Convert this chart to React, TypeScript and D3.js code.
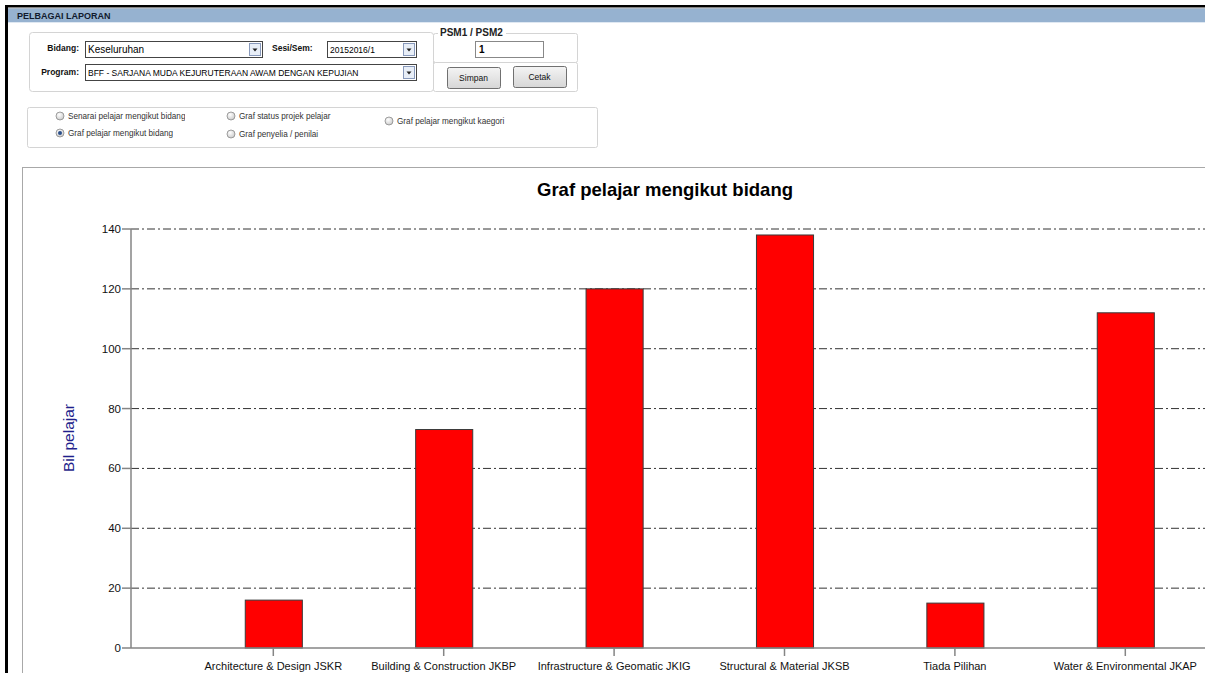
import React from "react";
import * as d3 from "d3";

const categories = [
  "Architecture & Design JSKR",
  "Building & Construction JKBP",
  "Infrastructure & Geomatic JKIG",
  "Structural & Material JKSB",
  "Tiada Pilihan",
  "Water & Environmental JKAP",
];
const values = [16, 73, 120, 138, 15, 112];
const yTicks = [0, 20, 40, 60, 80, 100, 120, 140];
const title = "Graf pelajar mengikut bidang";
const yLabel = "Bil pelajar";

const radioOptions = [
  { label: "Senarai pelajar mengikut bidang", x: 60, y: 116, clip: 185, sel: false },
  { label: "Graf pelajar mengikut bidang", x: 60, y: 133, clip: 173, sel: true },
  { label: "Graf status projek pelajar", x: 231, y: 116, clip: 380, sel: false },
  { label: "Graf penyelia / penilai", x: 231, y: 134, clip: 380, sel: false },
  { label: "Graf pelajar mengikut kaegori", x: 389, y: 121, clip: 505, sel: false },
];

const UI = "'Liberation Sans', Arial, sans-serif";

function Select({ x, y, w, text, fs = 9 }: { x: number; y: number; w: number; text: string; fs?: number }) {
  return (
    <g>
      <rect x={x + 0.5} y={y + 0.5} width={w} height={16} fill="#fff" stroke="#444" />
      <text x={x + 3} y={y + 12} fontSize={fs} fontFamily={UI} fill="#000">{text}</text>
      <rect x={x + w - 12.5} y={y + 2.5} width={11} height={12} fill="#e8eef7" stroke="#8899bb" />
      <path d={`M${x + w - 9.5},${y + 7.5} L${x + w - 4.5},${y + 7.5} L${x + w - 7},${y + 10.5} Z`} fill="#222" />
    </g>
  );
}

function Button({ x, y, w, h, text }: { x: number; y: number; w: number; h: number; text: string }) {
  return (
    <g>
      <defs>
        <linearGradient id={`btn-${text}`} x1="0" y1="0" x2="0" y2="1">
          <stop offset="0" stopColor="#f4f4f4" />
          <stop offset="1" stopColor="#d6d6d6" />
        </linearGradient>
      </defs>
      <rect x={x + 0.5} y={y + 0.5} width={w} height={h} rx={2} fill={`url(#btn-${text})`} stroke="#707070" />
      <text x={x + w / 2} y={y + h / 2 + 3} fontSize={8.5} fontFamily={UI} textAnchor="middle" fill="#111">{text}</text>
    </g>
  );
}

export default function App() {
  const W = 1205;
  const H = 673;
  const y0 = 648;
  const y140 = 229;
  const axisX = 131;

  const y = d3.scaleLinear().domain([0, 140]).range([y0, y140]);
  const step = 170.4;
  const start = 273.3 - step / 2;
  const x = d3
    .scaleBand<string>()
    .domain(categories)
    .range([start, start + step * categories.length])
    .paddingInner(0.665)
    .paddingOuter(0.3325);

  return (
    <svg width={W} height={H} style={{ position: "absolute", left: 0, top: 0, background: "#fff" }}>
      <defs>
        {radioOptions.map((r, i) => (
          <clipPath id={`rc${i}`} key={i}>
            <rect x={r.x} y={r.y - 10} width={r.clip - r.x} height={20} />
          </clipPath>
        ))}
        <radialGradient id="radioG" cx="0.4" cy="0.35" r="0.7">
          <stop offset="0" stopColor="#ffffff" />
          <stop offset="1" stopColor="#c8c8c8" />
        </radialGradient>
      </defs>

      {/* window frame */}
      <rect x={5} y={5} width={W - 5} height={2.5} fill="#000" />
      <rect x={8} y={7.5} width={W - 8} height={1} fill="#8a8a8a" />
      <rect x={5} y={5} width={3} height={H - 5} fill="#000" />
      <rect x={8} y={8.5} width={W - 8} height={13.5} fill="#96b2d0" />
      <rect x={8} y={22} width={W - 8} height={1} fill="#dfe8f2" />
      <text x={17} y={18.5} fontSize={9} fontWeight="bold" fontFamily={UI} fill="#111a2e">PELBAGAI LAPORAN</text>

      {/* form panel */}
      <rect x={29.5} y={32.5} width={404} height={59} rx={3} fill="#fff" stroke="#d4d4d4" />
      <text x={79} y={51} fontSize={8.5} fontWeight="bold" fontFamily={UI} textAnchor="end" fill="#111">Bidang:</text>
      <Select x={85} y={41} w={177} text="Keseluruhan" fs={10} />
      <text x={272} y={51} fontSize={8.5} fontWeight="bold" fontFamily={UI} fill="#111">Sesi/Sem:</text>
      <Select x={327} y={41} w={89} text="20152016/1" fs={8.5} />
      <text x={79} y={75} fontSize={8.5} fontWeight="bold" fontFamily={UI} textAnchor="end" fill="#111">Program:</text>
      <Select x={85} y={64} w={331} text="BFF - SARJANA MUDA KEJURUTERAAN AWAM DENGAN KEPUJIAN" fs={8.5} />

      <rect x={433.5} y={33.5} width={144} height={29} rx={2} fill="#fff" stroke="#d4d4d4" />
      <rect x={438} y={27} width={68} height={10} fill="#fff" />
      <text x={440} y={36} fontSize={10} fontWeight="bold" fontFamily={UI} fill="#222">PSM1 / PSM2</text>
      <rect x={475.5} y={41.5} width={68} height={16} fill="#fff" stroke="#888" />
      <text x={479} y={53} fontSize={10} fontWeight="bold" fontFamily={UI} fill="#000">1</text>
      <rect x={433.5} y={62.5} width={144} height={29} rx={2} fill="#fff" stroke="#d4d4d4" />
      <Button x={447} y={67} w={53} h={21} text="Simpan" />
      <Button x={513} y={66} w={53} h={21} text="Cetak" />

      {/* radio panel */}
      <rect x={27.5} y={107.5} width={570} height={40} rx={2} fill="#fff" stroke="#d4d4d4" />
      {radioOptions.map((r, i) => (
        <g key={i}>
          <circle cx={r.x} cy={r.y} r={4} fill="url(#radioG)" stroke="#8a8a8a" strokeWidth={0.8} />
          {r.sel && <circle cx={r.x} cy={r.y} r={2} fill="#2a4f8a" />}
          <g clipPath={`url(#rc${i})`}>
            <text x={r.x + 8} y={r.y + 3} fontSize={8.2} fontFamily={UI} fill="#333">{r.label}</text>
          </g>
        </g>
      ))}

      {/* chart panel */}
      <rect x={22.5} y={167.5} width={W} height={H} fill="#fff" stroke="#a8a8a8" />

      <text x={665} y={196} fontSize={18.5} fontWeight="bold" fontFamily={UI} textAnchor="middle" fill="#000">{title}</text>

      {/* grid */}
      {yTicks.filter((t) => t > 0).map((t) => (
        <line key={t} x1={axisX} x2={W} y1={y(t)} y2={y(t)} stroke="#333" strokeWidth={1} strokeDasharray="8,3,2,3" />
      ))}

      {/* bars */}
      {categories.map((c, i) => (
        <rect
          key={c}
          x={x(c)! + 0.5}
          y={y(values[i])}
          width={x.bandwidth()}
          height={y0 - y(values[i])}
          fill="#ff0000"
          stroke="#3a3a3a"
          strokeWidth={1}
        />
      ))}

      {/* axes */}
      <line x1={axisX} x2={axisX} y1={y140} y2={y0} stroke="#858585" strokeWidth={1.5} />
      <line x1={axisX} x2={W} y1={y0} y2={y0} stroke="#858585" strokeWidth={1.5} />
      {yTicks.map((t) => (
        <g key={t}>
          <line x1={axisX - 9} x2={axisX} y1={y(t)} y2={y(t)} stroke="#858585" strokeWidth={1.5} />
          <text x={axisX - 10} y={y(t) + 4} fontSize={11.5} fontFamily={UI} textAnchor="end" fill="#111">{t}</text>
        </g>
      ))}
      {categories.map((c) => {
        const cx = x(c)! + x.bandwidth() / 2;
        return (
          <g key={c}>
            <line x1={cx} x2={cx} y1={y0} y2={y0 + 8} stroke="#858585" strokeWidth={1.5} />
            <text x={cx} y={670} fontSize={11} fontFamily={UI} textAnchor="middle" fill="#111">{c}</text>
          </g>
        );
      })}

      <text
        transform={`translate(74,${438}) rotate(-90)`}
        fontSize={15.5}
        fontFamily={UI}
        textAnchor="middle"
        fill="#1f1f8c"
      >
        {yLabel}
      </text>
    </svg>
  );
}
